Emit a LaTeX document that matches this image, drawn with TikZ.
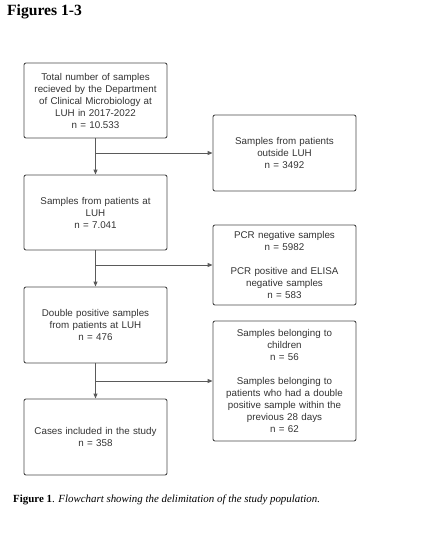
\documentclass[tikz,border=0pt]{standalone}
\usepackage{fontspec}
\setmainfont{Liberation Serif}
\setsansfont{Liberation Sans}
\usetikzlibrary{arrows.meta}
\definecolor{boxline}{HTML}{4A4A4A}
\definecolor{arrowline}{HTML}{5A5A5A}
\definecolor{boxtext}{HTML}{333333}
\begin{document}
\begin{tikzpicture}[x=1pt,y=-1pt,
    box/.style={draw=boxline,line width=0.9pt,rounded corners=2pt,text width=139pt,
      inner sep=2pt,align=center,text=boxtext,font=\sffamily\fontsize{9.8}{12}\selectfont},
    arr/.style={-{Triangle[length=5pt,width=4pt]},draw=arrowline,line width=0.9pt}]
        \useasboundingbox (0,0) rectangle (442,544);

        % Titel
        \node[anchor=base west,inner sep=0,font=\bfseries\fontsize{15.6}{18}\selectfont] (title) at (7,15.5) {Figures 1-3};

        % Linke Kette
        \node[box,minimum height=75pt] (total) at (95.5,100.5) {Total number of samples\\ recieved by the Department\\ of Clinical Microbiology at\\ LUH in 2017-2022\\ n = 10.533};
        \node[box,minimum height=75pt] (atluh) at (95.5,212.5) {Samples from patients at\\ LUH\\ n = 7.041};
        \node[box,minimum height=76pt] (double) at (95.5,325) {Double positive samples\\ from patients at LUH\\ n = 476};
        \node[box,minimum height=76pt] (cases) at (95.5,437) {Cases included in the study\\ n = 358};

        % Ausgeschlossene Proben
        \node[box,minimum height=76pt] (outside) at (284.5,153) {Samples from patients\\ outside LUH\\ n = 3492};
        \node[box,minimum height=80pt] (negative) at (284.5,265) {PCR negative samples\\ n = 5982\\[12pt] PCR positive and ELISA\\ negative samples\\ n = 583};
        \node[box,minimum height=120pt] (children) at (284.5,381) {Samples belonging to\\ children\\ n = 56\\[12pt] Samples belonging to\\ patients who had a double\\ positive sample within the\\ previous 28 days\\ n = 62};

        % Pfeile
        \draw[arr] (total) -- (atluh);
        \draw[arr] (atluh) -- (double);
        \draw[arr] (double) -- (cases);
        \draw[arr] (total.south |- outside.west) -- (outside.west);
        \draw[arr] (atluh.south |- negative.west) -- (negative.west);
        \draw[arr] (double.south |- children.west) -- (children.west);

        % Bildunterschrift
        \node[anchor=base west,inner sep=0,font=\fontsize{10.9}{13}\selectfont] (caption) at (13,502.5) {\textbf{Figure 1}. \textit{Flowchart showing the delimitation of the study population.}};
\end{tikzpicture}
\end{document}
